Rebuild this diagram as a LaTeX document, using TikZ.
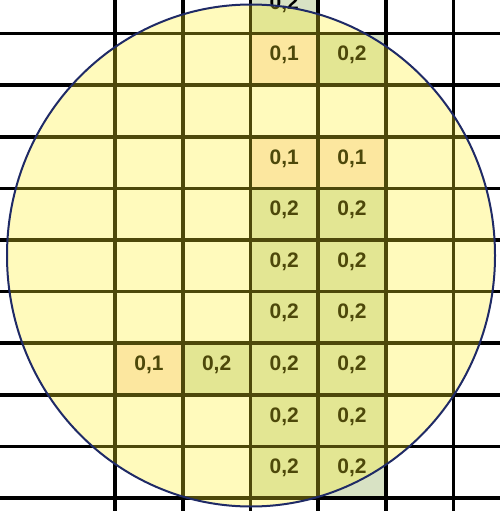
\documentclass[tikz,border=0pt]{standalone}
\usepackage{fontspec}
\setmainfont{Liberation Sans}
\usepackage{tikz}
\definecolor{gridink}{HTML}{000000}
\definecolor{peach}{HTML}{FCE4D6}
\definecolor{sage}{HTML}{D8E2C4}
\definecolor{lemon}{HTML}{FFF023}
\definecolor{rimblue}{HTML}{1F2A66}

\begin{document}
\begin{tikzpicture}[x=1pt,y=-1pt,
  cellbox/.style={inner sep=0pt,minimum width=67.7pt,minimum height=51.6pt,
    text height=15pt,text depth=12pt,
    font=\fontsize{21}{21}\selectfont\bfseries},
  lowcell/.style={cellbox,fill=peach},
  highcell/.style={cellbox,fill=sage},
  gridline/.style={line width=3.6pt,gridink},
  zone/.style={draw=rimblue,line width=2pt,fill=lemon,fill opacity=0.3}
]
  \clip (0,0) rectangle (500,511);
  \fill[white] (0,0) rectangle (500,511);

  \node[highcell] (r0c) at (284.3,7.7) {0,2};
  \node[lowcell] (r1c) at (284.3,59.3) {0,1};
  \node[highcell] (r1d) at (352,59.3) {0,2};

  \node[lowcell] (r3c) at (284.3,162.5) {0,1};
  \node[lowcell] (r3d) at (352,162.5) {0,1};
  \node[highcell] (r4c) at (284.3,214.1) {0,2};
  \node[highcell] (r4d) at (352,214.1) {0,2};
  \node[highcell] (r5c) at (284.3,265.7) {0,2};
  \node[highcell] (r5d) at (352,265.7) {0,2};
  \node[highcell] (r6c) at (284.3,317.3) {0,2};
  \node[highcell] (r6d) at (352,317.3) {0,2};

  \node[lowcell] (r7a) at (149,368.9) {0,1};
  \node[highcell] (r7b) at (216.6,368.9) {0,2};
  \node[highcell] (r7c) at (284.3,368.9) {0,2};
  \node[highcell] (r7d) at (352,368.9) {0,2};
  \node[highcell] (r8c) at (284.3,420.5) {0,2};
  \node[highcell] (r8d) at (352,420.5) {0,2};
  \node[highcell] (r9c) at (284.3,472.1) {0,2};
  \node[highcell] (r9d) at (352,472.1) {0,2};

  \draw[gridline] (0,33.5) -- (500,33.5);
  \draw[gridline] (0,85.1) -- (500,85.1);
  \draw[gridline] (0,136.7) -- (500,136.7);
  \draw[gridline] (0,188.3) -- (500,188.3);
  \draw[gridline] (0,239.9) -- (500,239.9);
  \draw[gridline] (0,291.5) -- (500,291.5);
  \draw[gridline] (0,343.1) -- (500,343.1);
  \draw[gridline] (0,394.7) -- (500,394.7);
  \draw[gridline] (0,446.3) -- (500,446.3);
  \draw[gridline] (0,497.9) -- (500,497.9);
  \draw[gridline] (115,0) -- (115,511);
  \draw[gridline] (182.7,0) -- (182.7,511);
  \draw[gridline] (250.4,0) -- (250.4,511);
  \draw[gridline] (318.1,0) -- (318.1,511);
  \draw[gridline] (385.8,0) -- (385.8,511);
  \draw[gridline] (453.5,0) -- (453.5,511);

  \draw[zone] (251,255.5) ellipse [x radius=244, y radius=251];
\end{tikzpicture}
\end{document}
